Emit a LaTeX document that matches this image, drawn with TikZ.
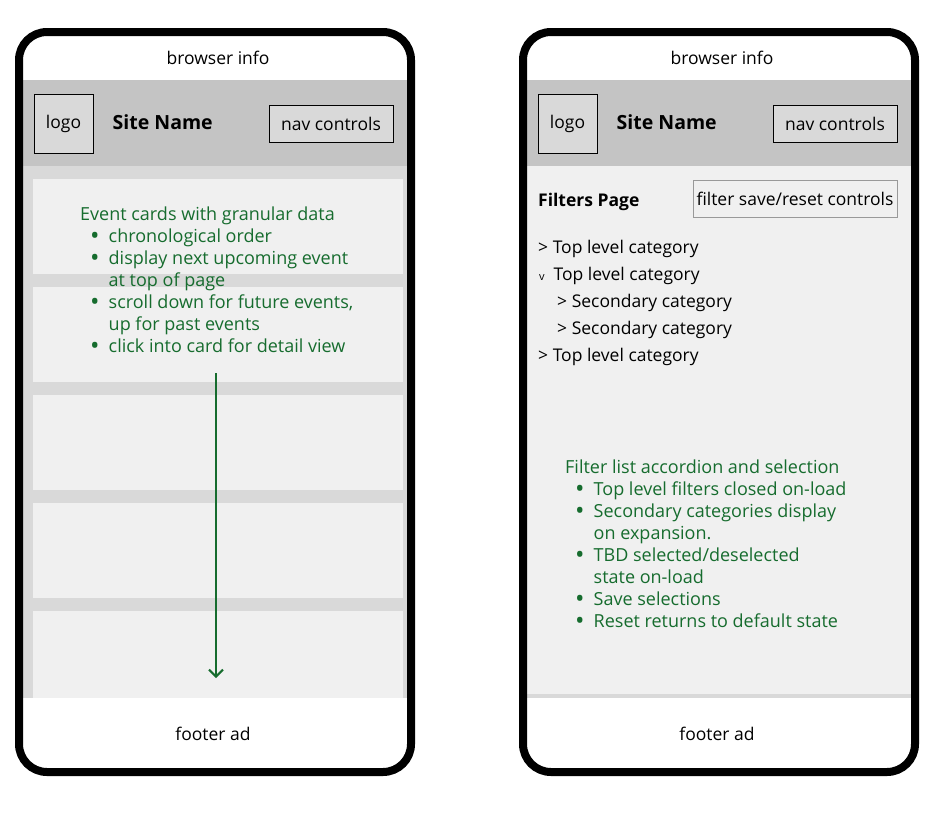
\documentclass[tikz,border=0pt]{standalone}
\usepackage{fontspec}
\setmainfont{Open Sans}
\usepackage{tikz}
\usetikzlibrary{arrows.meta, positioning}
\definecolor{hdrgray}{HTML}{C4C4C4}
\definecolor{gapgray}{HTML}{D9D9D9}
\definecolor{cardgray}{HTML}{F0F0F0}
\definecolor{notegreen}{RGB}{22,108,46}
\tikzset{
  frame/.style={line width=8pt, rounded corners=28pt},
  txt/.style={font=\fontsize{17.5}{22}\selectfont, inner sep=0pt},
  sitename/.style={font=\fontsize{19.5}{22}\selectfont\bfseries, inner sep=0pt, anchor=base west},
  greybox/.style={txt, draw, line width=1pt, fill=gapgray},
  note/.style={font=\fontsize{18}{22}\selectfont, inner sep=0pt, text=notegreen, align=left, anchor=north west},
}
\newcommand{\bitem}{\makebox[28.5pt][l]{\hspace{10pt}\smash{\raisebox{-0.08em}{\scalebox{1.4}{\textbullet}}}}}
\newcommand{\bcont}{\hspace*{28.5pt}}

\begin{document}
\begin{tikzpicture}[x=1pt, y=-1pt]
    \useasboundingbox (0,0) rectangle (941,822);

    % left phone: event list
    \fill[white, rounded corners=28pt] (19,32) rectangle (411,772);
    \fill[hdrgray] (23,80) rectangle (407,166);
    \fill[gapgray] (23,166) rectangle (407,698);
    \fill[cardgray] (33,179) rectangle (403,274);
    \fill[cardgray] (33,287) rectangle (403,382);
    \fill[cardgray] (33,395) rectangle (403,490);
    \fill[cardgray] (33,503) rectangle (403,598);
    \fill[cardgray] (33,611) rectangle (403,698);
    \draw[frame] (19,32) rectangle (411,772);
    \node[txt, anchor=base] (linfo) at (218,64) {browser info};
    \node[greybox, minimum width=59pt, minimum height=59pt] (llogo) at (63.5,123.5) {logo};
    \node[sitename] (lsite) at (112.5,129) {Site Name};
    \node[greybox, minimum width=124pt, minimum height=37pt] (lnav) at (331,123.5) {nav controls};
    \node[note] (lnote) at (80,207) {Event cards with granular data\\
      \bitem chronological order\\
      \bitem display next upcoming event\\
      \bcont at top of page\\
      \bitem scroll down for future events,\\
      \bcont up for past events\\
      \bitem click into card for detail view};
    \coordinate (ltop) at (216,373);
    \coordinate (lbot) at (216,678);
    \draw[notegreen, line width=2pt, -{Straight Barb[length=7pt, width=14pt]}] (ltop) -- (lbot);
    \node[txt, anchor=base] (lfoot) at (213,740.5) {footer ad};

    % right phone: filters page
    \fill[white, rounded corners=28pt] (523,32) rectangle (915,772);
    \fill[hdrgray] (527,80) rectangle (911,166);
    \fill[cardgray] (527,166) rectangle (911,694);
    \fill[gapgray] (527,694) rectangle (911,698);
    \draw[frame] (523,32) rectangle (915,772);
    \node[txt, anchor=base] (rinfo) at (722,64) {browser info};
    \node[greybox, minimum width=59pt, minimum height=59pt] (rlogo) at (567.5,123.5) {logo};
    \node[sitename] (rsite) at (616.5,129) {Site Name};
    \node[greybox, minimum width=124pt, minimum height=37pt] (rnav) at (835,123.5) {nav controls};
    \node[sitename, font=\fontsize{17.5}{22}\selectfont\bfseries] (rtitle) at (538,206.5) {Filters Page};
    \node[txt, draw=black!40, line width=1pt, fill=cardgray, minimum width=204pt, minimum height=37pt] (rctrl) at (795,198.5) {filter save/reset controls};
    \node[txt, font=\fontsize{17.5}{27}\selectfont, align=left, anchor=north west] (rlist) at (538,240) {> Top level category\\
      \makebox[15.5pt][l]{\hspace{1pt}\fontsize{11}{11}\selectfont v}Top level category\\
      \hspace*{19pt}> Secondary category\\
      \hspace*{19pt}> Secondary category\\
      > Top level category};
    \node[note] (rnote) at (565,460) {Filter list accordion and selection\\
      \bitem Top level filters closed on-load\\
      \bitem Secondary categories display\\
      \bcont on expansion.\\
      \bitem TBD selected/deselected\\
      \bcont state on-load\\
      \bitem Save selections\\
      \bitem Reset returns to default state};
    \node[txt, anchor=base] (rfoot) at (717,740) {footer ad};
\end{tikzpicture}
\end{document}
